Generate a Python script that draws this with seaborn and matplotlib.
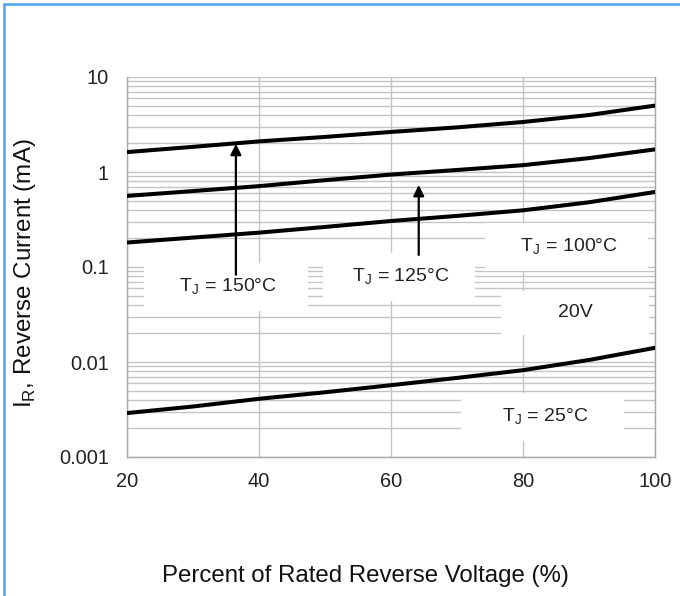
import numpy as np
import pandas as pd
import matplotlib
matplotlib.use('Agg')
import matplotlib.pyplot as plt
import seaborn as sns
from matplotlib.lines import Line2D
from matplotlib.ticker import LogLocator, FixedLocator, NullFormatter

# percent of rated reverse voltage
pct = [20, 30, 40, 50, 60, 70, 80, 90, 100]
# reverse current (mA)
ir_150 = [1.62, 1.84, 2.10, 2.34, 2.64, 2.95, 3.36, 3.98, 5.0]
ir_125 = [0.56, 0.63, 0.71, 0.82, 0.94, 1.05, 1.18, 1.40, 1.73]
ir_100 = [0.181, 0.204, 0.230, 0.264, 0.305, 0.345, 0.395, 0.48, 0.616]
ir_25 = [0.0029, 0.0034, 0.0041, 0.0048, 0.0057, 0.0068, 0.0082, 0.0105, 0.0141]
temps = ['150', '125', '100', '25']

x_ticks = [20, 40, 60, 80, 100]
y_ticks = [0.001, 0.01, 0.1, 1, 10]
y_ticklabels = ['0.001', '0.01', '0.1', '1', '10']

df = pd.DataFrame({
    'pct': pct * 4,
    'ir': ir_150 + ir_125 + ir_100 + ir_25,
    'tj': [t for t in temps for _ in pct],
})

sns.set_style('white')
plt.rcParams['font.family'] = ['Liberation Sans', 'DejaVu Sans']
plt.rcParams['mathtext.fontset'] = 'custom'
plt.rcParams['mathtext.rm'] = 'Liberation Sans'

fig = plt.figure(figsize=(6.8, 5.96), dpi=100)
ax = fig.add_axes([127/680, 1-457/596, 528/680, 380/596])

sns.lineplot(data=df, x='pct', y='ir', hue='tj', palette=['black']*4,
             legend=False, linewidth=2.9, ax=ax, zorder=3)

ax.set_yscale('log')
ax.set_xlim(20, 100)
ax.set_ylim(0.001, 10)
ax.xaxis.set_major_locator(FixedLocator(x_ticks))
ax.yaxis.set_major_locator(FixedLocator(y_ticks))
ax.set_yticklabels(y_ticklabels)
ax.yaxis.set_minor_locator(LogLocator(base=10, subs=np.arange(2, 10)))
ax.yaxis.set_minor_formatter(NullFormatter())

gc = '#c4c4c4'
ax.grid(True, which='major', color=gc, linewidth=1.0)
ax.grid(True, which='minor', axis='y', color=gc, linewidth=1.0)
for s in ['left', 'bottom', 'right']:
    ax.spines[s].set_color('#a8a8a8')
    ax.spines[s].set_linewidth(1.0)
ax.spines['top'].set_visible(False)
ax.tick_params(length=0, labelsize=14.4, colors='#222222')
ax.tick_params(axis='x', pad=11)
ax.tick_params(axis='y', pad=13)

ax.set_xlabel('Percent of Rated Reverse Voltage (%)', fontsize=17.3, color='#111111')
ax.xaxis.set_label_coords(0.452, -0.283)
ax.set_ylabel(r'I$_\mathregular{R}$, Reverse Current (mA)', fontsize=17.4, color='#111111')
ax.yaxis.set_label_coords(-0.169, 0.484)

box = dict(boxstyle='square,pad=0.7', facecolor='white', edgecolor='none')
labels = [
    ('    T$_\\mathregular{J}$ = 150°C    ', 35.0, 0.0617),
    ('   T$_\\mathregular{J}$ = 125°C   ', 61.2, 0.0785),
    ('    T$_\\mathregular{J}$ = 100°C    ', 86.6, 0.1625),
    ('        20V        ', 87.9, 0.0328),
    ('     T$_\\mathregular{J}$ = 25°C     ', 83.0, 0.00264),
]
for txt, xx, yy in labels:
    ax.text(xx, yy, txt, fontsize=14, color='#222222', ha='center',
            va='center', bbox=box, zorder=4)

arrow = dict(arrowstyle='-|>', color='black', lw=1.6, mutation_scale=16,
             shrinkA=0, shrinkB=0)
ax.annotate('', xy=(36.5, 1.98), xytext=(36.5, 0.083), arrowprops=arrow, zorder=5)
ax.annotate('', xy=(64.2, 0.73), xytext=(64.2, 0.134), arrowprops=arrow, zorder=5)

# blue frame on left and top
blue = '#4aa3ef'
fig.add_artist(Line2D([4/680, 4/680], [0, 1-4/596], color=blue, lw=1.8))
fig.add_artist(Line2D([4/680, 1], [1-4/596, 1-4/596], color=blue, lw=1.8))

fig.savefig('out.png', dpi=100)
